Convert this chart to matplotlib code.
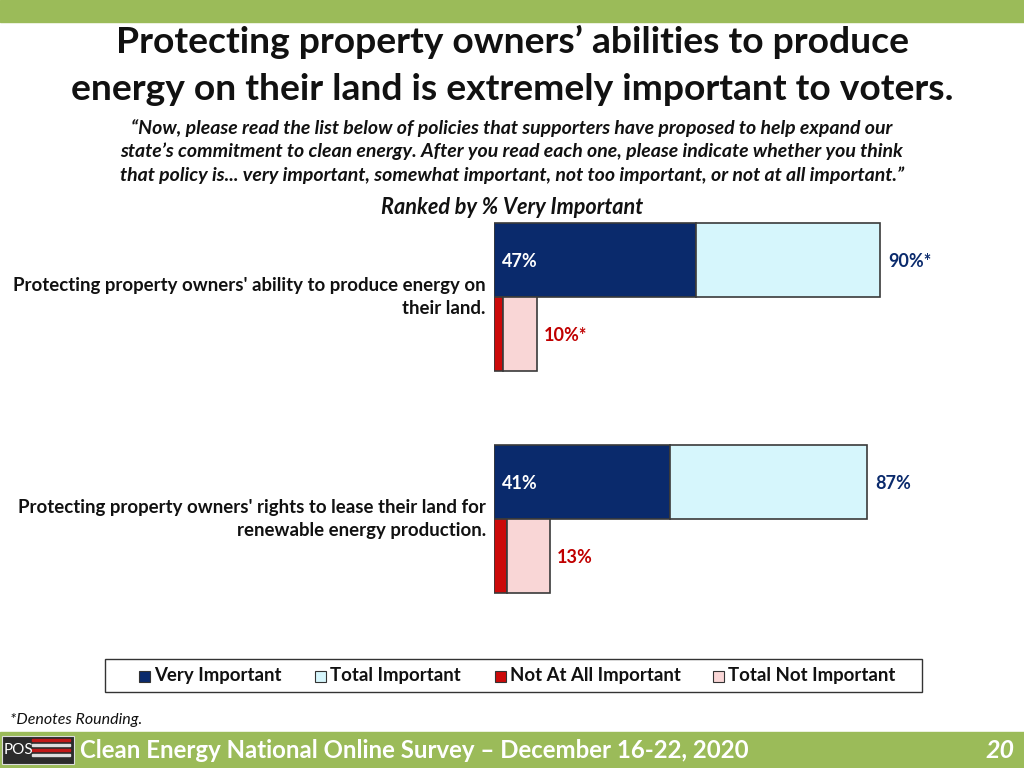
import matplotlib
matplotlib.use("Agg")
import matplotlib.pyplot as plt
from matplotlib.patches import Rectangle

plt.rcParams['font.family'] = ['Lato', 'DejaVu Sans']

categories = ["Protecting property owners' ability to produce energy on\ntheir land.",
              "Protecting property owners' rights to lease their land for\nrenewable energy production."]
very_important = [47, 41]
total_important = [90, 87]
not_at_all = [2, 3]
total_not = [10, 13]
very_labels = ["47%", "41%"]
total_imp_labels = ["90%*", "87%"]
total_not_labels = ["10%*", "13%"]
legend_labels = ["Very Important", "Total Important", "Not At All Important", "Total Not Important"]

NAVY = "#0A2A6C"
LIGHT = "#D6F6FC"
RED = "#CC0A0A"
PINK = "#F9D6D6"
EDGE = "#3A3A3A"
GREEN = "#9BBB59"

W, H = 1024, 768
fig = plt.figure(figsize=(W / 100, H / 100), dpi=100)

def fx(px):
    return px / W

def fy(py):
    return 1 - py / H

# top and bottom green bands
fig.patches.append(Rectangle((0, fy(22)), 1, 22 / H, transform=fig.transFigure, color=GREEN, zorder=0))
fig.patches.append(Rectangle((0, 0), 1, 36 / H, transform=fig.transFigure, color=GREEN, zorder=0))
# logo
fig.patches.append(Rectangle((fx(2), fy(764)), 72 / W, 28 / H, transform=fig.transFigure,
                             facecolor="#2B2B2B", edgecolor="#DDDDDD", lw=0.8, zorder=1))
for i, yy in enumerate([741, 746, 751, 756]):
    fig.patches.append(Rectangle((fx(32), fy(yy)), 38 / W, 2.2 / H, transform=fig.transFigure,
                                 color="#C01818" if i % 2 == 0 else "#DDDDDD", zorder=2))
fig.text(fx(4), fy(750), "POS", color="white", fontsize=11, va="center", ha="left", zorder=3)

# titles
fig.text(0.5, fy(42), "Protecting property owners\u2019 abilities to produce",
         ha="center", va="center", fontsize=26.8, fontweight="bold", color="#111111")
fig.text(0.5, fy(90), "energy on their land is extremely important to voters.",
         ha="center", va="center", fontsize=26.8, fontweight="bold", color="#111111")
sub = ["\u201cNow, please read the list below of policies that supporters have proposed to help expand our",
       "state\u2019s commitment to clean energy. After you read each one, please indicate whether you think",
       "that policy is... very important, somewhat important, not too important, or not at all important.\u201d"]
for i, s in enumerate(sub):
    fig.text(0.5, fy(128 + 23.5 * i), s, ha="center", va="center", fontsize=14,
             fontweight="bold", fontstyle="italic", color="#111111")
fig.text(0.5, fy(207), "Ranked by % Very Important", ha="center", va="center", fontsize=15.6,
         fontweight="bold", fontstyle="italic", color="#111111")

# footer
fig.text(fx(10), fy(720), "*Denotes Rounding.", ha="left", va="center", fontsize=11.5,
         fontstyle="italic", color="#111111")
fig.text(fx(80), fy(750), "Clean Energy National Online Survey \u2013 December 16-22, 2020",
         ha="left", va="center", fontsize=17.3, fontweight="bold", color="white")
fig.text(fx(1014), fy(750), "20", ha="right", va="center", fontsize=18, fontweight="bold",
         fontstyle="italic", color="white")

# main axes
ax_left, ax_right = 494, 923
ax_top, ax_bot = 210, 610
ax = fig.add_axes([fx(ax_left), fy(ax_bot), (ax_right - ax_left) / W, (ax_bot - ax_top) / H])
gap = 222.0
y0 = -(297 - ax_top) / gap
y1 = 1 + (ax_bot - 519) / gap
ax.set_xlim(0, 100)
ax.set_ylim(y1, y0)
ax.axis("off")

h = 74 / gap
for i in range(len(categories)):
    yt = i - h / 2
    yb = i + h / 2
    ax.barh(yt, very_important[i], height=h, color=NAVY, edgecolor=EDGE, lw=1.2, zorder=3)
    ax.barh(yt, total_important[i] - very_important[i], left=very_important[i], height=h,
            color=LIGHT, edgecolor=EDGE, lw=1.2, zorder=3)
    ax.barh(yb, not_at_all[i], height=h, color=RED, edgecolor=EDGE, lw=1.2, zorder=3)
    ax.barh(yb, total_not[i] - not_at_all[i], left=not_at_all[i], height=h,
            color=PINK, edgecolor=EDGE, lw=1.2, zorder=3)
    ax.annotate(very_labels[i], (0, yt + 0.005), xytext=(6, 0), textcoords="offset points",
                ha="left", va="center", fontsize=13, fontweight="bold", color="white", zorder=5)
    ax.annotate(total_imp_labels[i], (total_important[i], yt + 0.005), xytext=(6, 0),
                textcoords="offset points", ha="left", va="center", fontsize=13,
                fontweight="bold", color=NAVY, zorder=5)
    ax.annotate(total_not_labels[i], (total_not[i], yb + 0.005), xytext=(5, 0),
                textcoords="offset points", ha="left", va="center", fontsize=13,
                fontweight="bold", color="#C00000", zorder=5)
    ax.annotate(categories[i], (0, i), xytext=(-6, 0), textcoords="offset points",
                ha="right", va="center", fontsize=13.4, fontweight="bold", color="#111111",
                linespacing=1.4, annotation_clip=False)

# legend box
fig.patches.append(Rectangle((fx(105), fy(692)), (922 - 105) / W, 33 / H, transform=fig.transFigure,
                             facecolor="white", edgecolor="#333333", lw=1.0, zorder=1))
leg_colors = [NAVY, LIGHT, RED, PINK]
leg_x = [139, 315, 495, 713]
for c, lx, lab in zip(leg_colors, leg_x, legend_labels):
    fig.patches.append(Rectangle((fx(lx), fy(682)), 11 / W, 11 / H, transform=fig.transFigure,
                                 facecolor=c, edgecolor="#333333", lw=0.8, zorder=2))
    fig.text(fx(lx + 15), fy(676), lab, ha="left", va="center", fontsize=13.4,
             fontweight="bold", color="#111111")

fig.savefig("out.png", dpi=100)
